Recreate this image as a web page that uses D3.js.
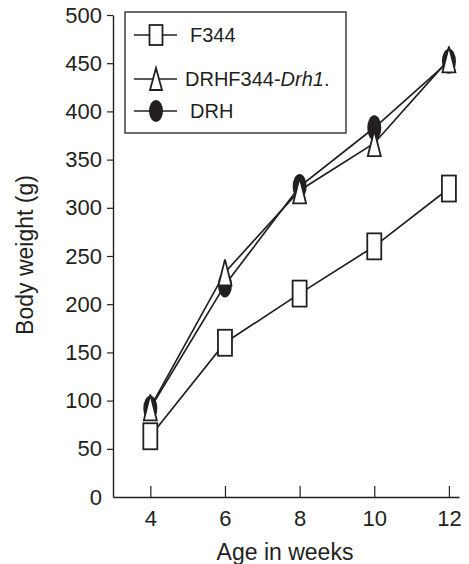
<!DOCTYPE html>
<html>
<head>
<meta charset="utf-8">
<script src="https://cdn.jsdelivr.net/npm/d3@7"></script>
<style>
  html, body { margin: 0; padding: 0; background: #fff; }
  svg text { font-family: "Liberation Sans", Arial, Helvetica, sans-serif; fill: #231f20; }
</style>
</head>
<body>
<div id="chart"></div>
<script>
// age in weeks, body weight (g) per strain
const weeks = [4, 6, 8, 10, 12];
const f344 = [63, 160, 211, 260, 320];
const drhCongenic = [93, 233, 318, 367, 454];   // DRHF344-Drh1.
const drh = [92, 220, 322, 383, 452];
const yTicks = [0, 50, 100, 150, 200, 250, 300, 350, 400, 450, 500];
const xTicks = [4, 6, 8, 10, 12];

const W = 469, H = 564;
const ink = '#231f20';

const svg = d3.select('#chart').append('svg').attr('width', W).attr('height', H);
svg.append('rect').attr('width', W).attr('height', H).attr('fill', '#fff');

const x = d3.scaleLinear().domain([3, 12.27]).range([113, 459]);
const y = d3.scaleLinear().domain([0, 500]).range([497, 15]);

// axes
const gx = svg.append('g').attr('transform', `translate(0,${y(0)})`)
	.call(d3.axisBottom(x).tickValues(xTicks).tickSizeInner(-11).tickSizeOuter(0).tickPadding(13));
const gy = svg.append('g').attr('transform', `translate(${x(3)},0)`)
	.call(d3.axisLeft(y).tickValues(yTicks).tickSize(6).tickSizeOuter(0).tickPadding(5));

[gx, gy].forEach(g => {
	g.select('.domain').attr('stroke', ink).attr('stroke-width', 1.4);
	g.selectAll('.tick line').attr('stroke', ink).attr('stroke-width', 1.2);
	g.selectAll('.tick text').attr('font-size', 22).attr('fill', ink)
		.style('font-family', '"Liberation Sans", Arial, sans-serif');
});
gy.selectAll('.tick').filter(d => d === 0).select('line').remove();

svg.append('text').attr('x', 285).attr('y', 560).attr('text-anchor', 'middle')
	.attr('font-size', 23).text('Age in weeks');
svg.append('text').attr('transform', 'translate(33,255) rotate(-90)').attr('text-anchor', 'middle')
	.attr('font-size', 23).text('Body weight (g)');

// lines
const line = d3.line().x(d => x(d[0])).y(d => y(d[1]));
const series = [
	{ name: 'DRH', vals: drh },
	{ name: 'DRHF344-Drh1.', vals: drhCongenic },
	{ name: 'F344', vals: f344 }
];
series.forEach(s => {
	svg.append('path').attr('d', line(weeks.map((w, i) => [w, s.vals[i]])))
		.attr('fill', 'none').attr('stroke', ink).attr('stroke-width', 1.7);
});

// markers
function square(g, cx, cy, w, h) {
	g.append('rect').attr('x', cx - w / 2).attr('y', cy - h / 2).attr('width', w).attr('height', h)
		.attr('fill', '#fff').attr('stroke', ink).attr('stroke-width', 1.8);
}
function triangle(g, cx, cy, w, h) {
	g.append('path').attr('d', `M${cx},${cy - h / 2}L${cx + w / 2},${cy + h / 2}L${cx - w / 2},${cy + h / 2}Z`)
		.attr('fill', '#fff').attr('stroke', ink).attr('stroke-width', 1.8).attr('stroke-linejoin', 'miter');
}
function blob(g, cx, cy, w, h) {
	g.append('ellipse').attr('cx', cx).attr('cy', cy).attr('rx', w / 2).attr('ry', h / 2).attr('fill', ink);
}

const marks = svg.append('g');
weeks.forEach((w, i) => blob(marks, x(w), y(drh[i]), 14, 25));
weeks.forEach((w, i) => triangle(marks, x(w), y(drhCongenic[i]), 13, 26));
weeks.forEach((w, i) => square(marks, x(w), y(f344[i]), 14, 26));

// legend
const lg = svg.append('g');
lg.append('rect').attr('x', 125).attr('y', 12).attr('width', 221).attr('height', 121)
	.attr('fill', '#fff').attr('stroke', ink).attr('stroke-width', 1.3);
const rows = [
	{ y: 35, draw: (g, cx, cy) => square(g, cx, cy, 13, 20), label: 'F344', tx: 190 },
	{ y: 79, draw: (g, cx, cy) => triangle(g, cx, cy, 12, 22), label: 'DRHF344-', italic: 'Drh1', tail: '.', tx: 185 },
	{ y: 111, draw: (g, cx, cy) => blob(g, cx, cy, 14, 22), label: 'DRH', tx: 190 }
];
rows.forEach(r => {
	lg.append('line').attr('x1', 134).attr('x2', 177).attr('y1', r.y).attr('y2', r.y)
		.attr('stroke', ink).attr('stroke-width', 1.7);
	r.draw(lg, 156, r.y);
	const t = lg.append('text').attr('x', r.tx).attr('y', r.y + 7).attr('font-size', 20);
	t.append('tspan').text(r.label);
	if (r.italic) {
		t.append('tspan').attr('font-style', 'italic').text(r.italic);
		t.append('tspan').text(r.tail);
	}
});
</script>
</body>
</html>
